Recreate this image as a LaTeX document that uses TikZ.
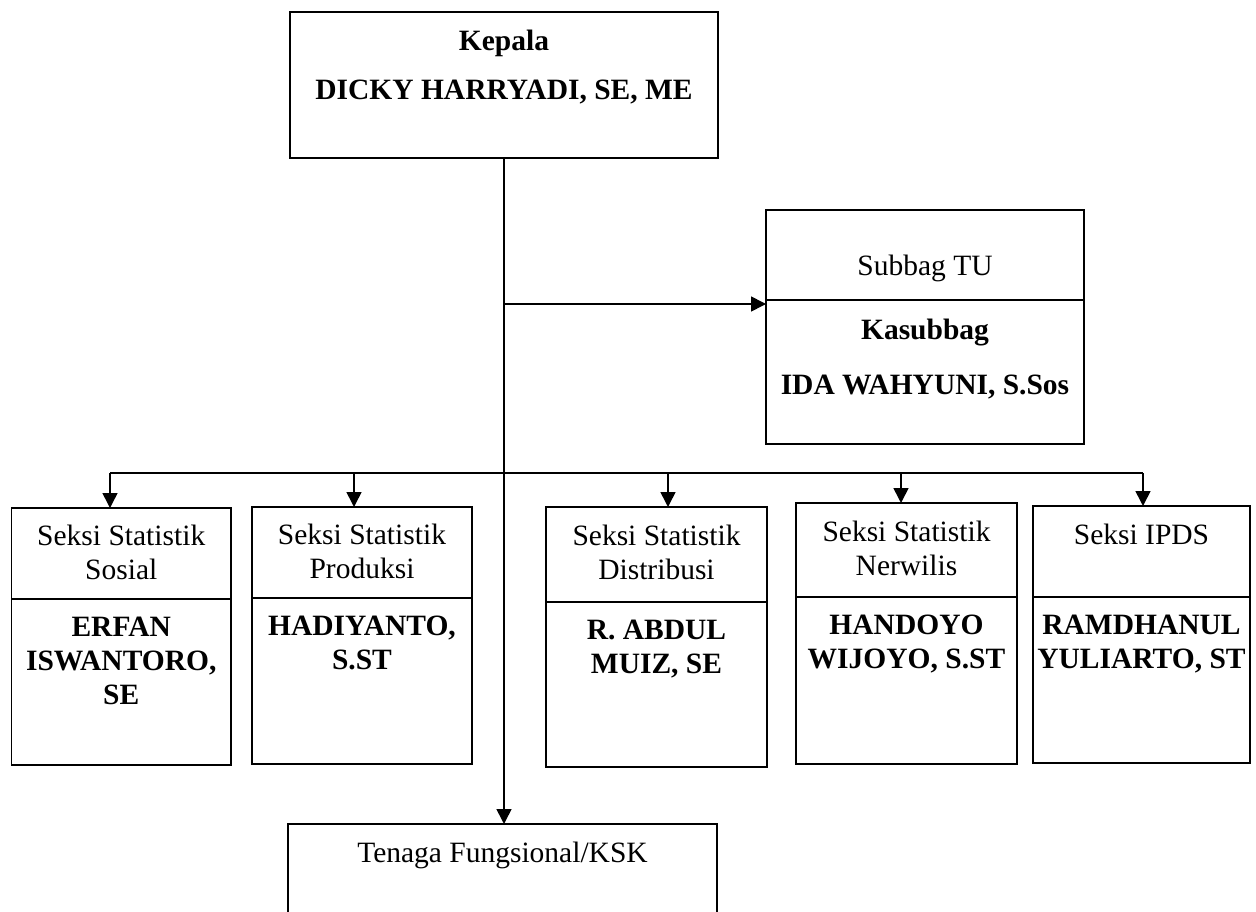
\documentclass[tikz,border=0pt]{standalone}
\usepackage{fontspec}
\setmainfont{Liberation Serif}
\usetikzlibrary{arrows.meta,calc}
\begin{document}
\begin{tikzpicture}[x=1pt,y=-1pt,
  every node/.style={inner sep=0pt, outer sep=0pt},
  box/.style={draw, line width=1.6pt, anchor=north west},
  txt/.style={anchor=north, align=center, font=\fontsize{29.5}{34}\selectfont},
  bold/.style={anchor=north, align=center, font=\fontsize{29.5}{34}\selectfont\bfseries},
  link/.style={line width=1.6pt},
  arr/.style={line width=1.6pt, -{Triangle[width=15pt,length=15pt]}}
]
\useasboundingbox (0,0) rectangle (1256,912);

% head of office
\node[box, minimum width=428pt, minimum height=146pt] (kepala) at (290,12) {};
\node[bold] (kepala-t1) at ($(kepala.north)+(0,18)$) {Kepala};
\node[bold] (kepala-t2) at ($(kepala.north)+(0,68)$) {DICKY HARRYADI, SE, ME};

% administration sub-division
\node[box, minimum width=318pt, minimum height=90pt] (tuh) at (766,210) {};
\node[box, minimum width=318pt, minimum height=144pt] (tub) at (766,300) {};
\node[txt] (tuh-t) at ($(tuh.north)+(0,45)$) {Subbag TU};
\node[bold] (tub-t1) at ($(tub.north)+(0,19)$) {Kasubbag};
\node[bold] (tub-t2) at ($(tub.north)+(0,75)$) {IDA WAHYUNI, S.Sos};

% sections
\node[box, minimum width=219.5pt, minimum height=91pt] (s1h) at (11.5,508) {};
\node[box, minimum width=219.5pt, minimum height=166pt] (s1b) at (11.5,599) {};
\node[box, minimum width=220pt, minimum height=91pt] (s2h) at (252,507) {};
\node[box, minimum width=220pt, minimum height=166pt] (s2b) at (252,598) {};
\node[box, minimum width=221pt, minimum height=95pt] (s3h) at (546,507) {};
\node[box, minimum width=221pt, minimum height=165pt] (s3b) at (546,602) {};
\node[box, minimum width=221pt, minimum height=94pt] (s4h) at (796,503) {};
\node[box, minimum width=221pt, minimum height=167pt] (s4b) at (796,597) {};
\node[box, minimum width=217pt, minimum height=91pt] (s5h) at (1033,506) {};
\node[box, minimum width=217pt, minimum height=166pt] (s5b) at (1033,597) {};

\node[txt] (s1h-t) at ($(s1h.north)+(0,17)$) {Seksi Statistik\\Sosial};
\node[txt] (s2h-t) at ($(s2h.north)+(0,17)$) {Seksi Statistik\\Produksi};
\node[txt] (s3h-t) at ($(s3h.north)+(0,18)$) {Seksi Statistik\\Distribusi};
\node[txt] (s4h-t) at ($(s4h.north)+(0,18)$) {Seksi Statistik\\Nerwilis};
\node[txt] (s5h-t) at ($(s5h.north)+(0,18)$) {Seksi IPDS};

\node[bold] (s1b-t) at ($(s1b.north)+(0,18)$) {ERFAN\\ISWANTORO,\\SE};
\node[bold] (s2b-t) at ($(s2b.north)+(0,18)$) {HADIYANTO,\\S.ST};
\node[bold] (s3b-t) at ($(s3b.north)+(0,18)$) {R. ABDUL\\MUIZ, SE};
\node[bold] (s4b-t) at ($(s4b.north)+(0,18)$) {HANDOYO\\WIJOYO, S.ST};
\node[bold] (s5b-t) at ($(s5b.north)+(0,18)$) {RAMDHANUL\\YULIARTO, ST};

% functional staff (runs past the lower edge)
\node[box, minimum width=429pt, minimum height=200pt] (tenaga) at (288,824) {};
\node[txt] (tenaga-t) at ($(tenaga.north)+(0,18)$) {Tenaga Fungsional/KSK};

% connectors
\draw[arr] (kepala.south) -- (kepala.south |- tenaga.north);
\coordinate (tu) at (503,304);
\draw[arr] (tu) -- (tu -| tub.west);

\coordinate (b1) at (110,473);
\coordinate (b2) at (354,473);
\coordinate (b3) at (668,473);
\coordinate (b4) at (901,473);
\coordinate (b5) at (1143,473);
\draw[link] (b1) -- (b5);
\draw[arr] (b1) -- (b1 |- s1h.north);
\draw[arr] (b2) -- (b2 |- s2h.north);
\draw[arr] (b3) -- (b3 |- s3h.north);
\draw[arr] (b4) -- (b4 |- s4h.north);
\draw[arr] (b5) -- (b5 |- s5h.north);
\end{tikzpicture}
\end{document}
